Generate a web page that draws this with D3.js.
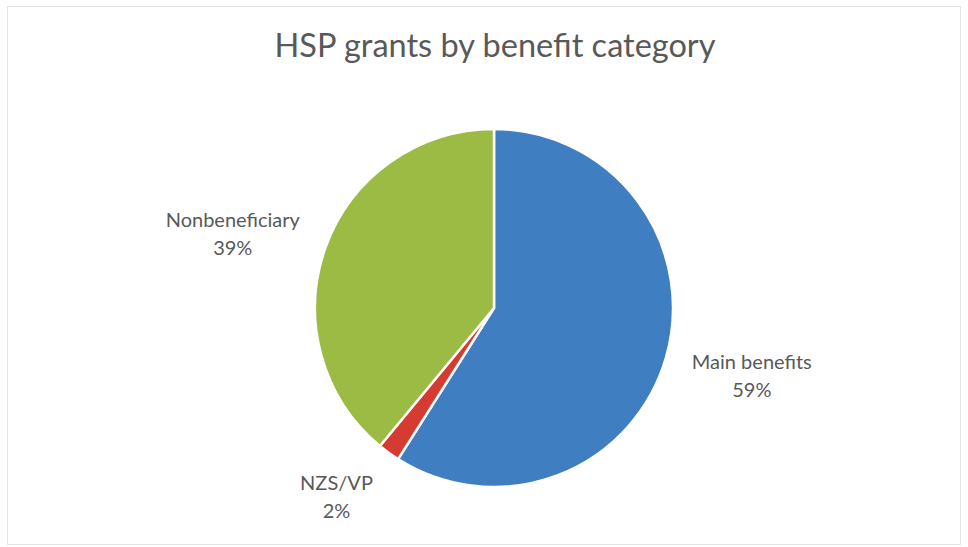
<!DOCTYPE html>
<html>
<head>
<meta charset="utf-8">
<script src="https://cdn.jsdelivr.net/npm/d3@7"></script>
<style>
  html, body { margin: 0; padding: 0; background: #ffffff; }
  svg { display: block; }
  text { font-family: Lato, "Open Sans", sans-serif; fill: #595959; }
</style>
</head>
<body>
<svg id="chart" width="968" height="547"></svg>
<script>
// HSP grants split by benefit category (percent of grants)
const categories = ["Main benefits", "NZS/VP", "Nonbeneficiary"];
const shares = [59, 2, 39];
const colors = ["#3f7ec1", "#d63b32", "#9bbb45"];
const title = "HSP grants by benefit category";

const W = 968, H = 547;
const svg = d3.select("#chart");

// faint chart frame
svg.append("rect")
  .attr("x", 7.5).attr("y", 6.5)
  .attr("width", W - 15).attr("height", H - 9)
  .attr("fill", "none")
  .attr("stroke", "#e4e4e4")
  .attr("stroke-width", 1);

svg.append("text")
  .attr("x", 495).attr("y", 57)
  .attr("text-anchor", "middle")
  .style("font-size", "32.5px")
  .text(title);

const cx = 494, cy = 308, r = 179;
const g = svg.append("g").attr("transform", `translate(${cx},${cy})`);

const pie = d3.pie().sort(null).value(d => d.v);
const data = pie(categories.map((c, i) => ({ c, v: shares[i], col: colors[i] })));
const arc = d3.arc().innerRadius(0).outerRadius(r);

g.selectAll("path.slice")
  .data(data)
  .join("path")
  .attr("class", "slice")
  .attr("d", arc)
  .attr("fill", d => d.data.col)
  .attr("stroke", "#ffffff")
  .attr("stroke-width", 2.5)
  .attr("stroke-linejoin", "round");

// outside-end labels: box edge sits on the slice's mid-angle ray just beyond the rim
const labelR = r + 27;
const lineH = 28;
const fontSize = 20;

data.forEach(d => {
  const a = (d.startAngle + d.endAngle) / 2;
  const sx = Math.sin(a), cyv = -Math.cos(a);
  const px = labelR * sx, py = labelR * cyv;

  const t = g.append("text")
    .attr("text-anchor", "middle")
    .style("font-size", fontSize + "px");
  t.append("tspan").attr("x", 0).attr("dy", 0).text(d.data.c);
  t.append("tspan").attr("x", 0).attr("dy", lineH).text(d.data.v + "%");

  const bb = t.node().getBBox();
  const w = bb.width, h = lineH + fontSize * 0.9;
  const boxCx = px + Math.sign(sx) * w / 2;
  const boxCy = py + cyv * h / 2;
  // first baseline so that the two-line block is centered on boxCy
  const firstBase = boxCy - lineH / 2 + fontSize * 0.55;
  t.attr("transform", `translate(${boxCx},${firstBase})`);
});
</script>
</body>
</html>
